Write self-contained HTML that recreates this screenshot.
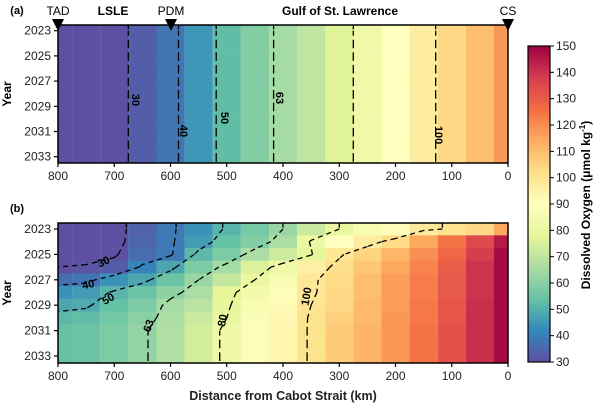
<!DOCTYPE html>
<html><head><meta charset="utf-8">
<style>
body{margin:0;background:#fff;}
svg{display:block;font-family:"Liberation Sans",Arial,sans-serif;}
</style></head>
<body>
<svg id="chart" width="600" height="408" viewBox="0 0 600 408" xmlns="http://www.w3.org/2000/svg">
<defs>
<clipPath id="clipA"><rect x="58" y="25" width="450" height="138"/></clipPath>
<clipPath id="clipB"><rect x="58" y="223" width="450" height="140"/></clipPath>
</defs>
<g id="root"></g>
</svg>
<script>
const distances = [800,750,700,650,600,550,500,450,400,350,300,250,200,150,100,50,0];
const years = [2023,2024,2025,2026,2027,2028,2029,2030,2031,2032,2033];
const xTicks = [800,700,600,500,400,300,200,100,0];
const yTicks = [2023,2025,2027,2029,2031,2033];
const cbTicks = [30,40,50,60,70,80,90,100,110,120,130,140,150];
const contourLevelsA = [30,40,50,63,80,100];
const contourLevelsB = [30,40,50,63,80,100];
const profileA = [26,26,27,33,38,45,53,59,65,70,77,83,90,97,104,110,118];
const gridB = [
 [22,22,27,34,39,44,51,57,63,72,80,86,91,98,101,104,115],
 [23,24,27,35,39,46,54,59,66,81,90,97,103,115,125,135,145],
 [25,26,29,36,39,52,58,66,73,79,99,105,112,120,128,138,148],
 [30,31,33,41,48,58,65,76,83,96,102,108,115,122,130,140,148],
 [37,38,44,48,55,63,71,80,86,99,103,110,117,123,131,140,148],
 [44,46,51,55,61,66,78,84,88,99,104,110,117,123,131,140,148],
 [48,49,54,58,65,69,79,86,92,100,104,111,117,124,132,141,148],
 [52,53,56,60,66,72,80,87,93,101,106,111,118,124,132,141,148],
 [54,55,58,62,67,74,82,88,94,101,107,112,118,125,133,141,148],
 [54,55,58,62,67,74,82,88,94,101,107,112,118,125,133,141,148],
 [54,55,58,62,67,74,82,88,94,101,107,112,118,125,133,141,148]
];
const gridA = years.map(()=>profileA.slice());

const NS="http://www.w3.org/2000/svg";
const root=document.getElementById('root');
function el(tag,attrs,parent){const e=document.createElementNS(NS,tag);for(const k in attrs)e.setAttribute(k,attrs[k]);(parent||root).appendChild(e);return e;}
const stops=[[0,'#5e4fa2'],[0.1,'#3288bd'],[0.2,'#66c2a5'],[0.3,'#abdda4'],[0.4,'#e6f598'],[0.5,'#ffffbf'],[0.6,'#fee08b'],[0.7,'#fdae61'],[0.8,'#f46d43'],[0.9,'#d53e4f'],[1,'#9e0142']];
function hex(h){return [1,3,5].map(i=>parseInt(h.substr(i,2),16));}
function cmap(v){let t=(v-30)/120;t=Math.max(0,Math.min(1,t));for(let i=0;i<stops.length-1;i++){if(t<=stops[i+1][0]){const a=hex(stops[i][1]),b=hex(stops[i+1][1]);const f=(t-stops[i][0])/(stops[i+1][0]-stops[i][0]);return 'rgb('+a.map((c,j)=>Math.round(c+(b[j]-c)*f)).join(',')+')';}}return stops[10][1];}
const xS=km=>508-km*0.5625;

function panel(grid,levels,top,bottom,y2023,y2033,clip,pname){
  const yS=y=>y2023+(y-2023)*(y2033-y2023)/10;
  const g=el('g',{'clip-path':'url(#'+clip+')'});
  
  
  grid.forEach((row,i)=>row.forEach((v,j)=>{
    const r=el('rect',{x:xS(distances[j]+25),y:yS(years[i]-0.5),width:28.2,height:yS(2024)-yS(2023)+0.3,fill:cmap(v)},g);
    
    
  }));
  // padded grid for contours
  const py=[2022.5,...years,2033.5];
  const pg=[grid[0],...grid,grid[grid.length-1]];
  const cg=el('g',{fill:'none',stroke:'#000','stroke-width':1.3,'stroke-dasharray':'5,4'},g);
  
  
  levels.forEach(L=>{
    let d='';
    for(let i=0;i<py.length-1;i++)for(let j=0;j<distances.length-1;j++){
      const c=[[pg[i][j],distances[j],py[i]],[pg[i][j+1],distances[j+1],py[i]],[pg[i+1][j+1],distances[j+1],py[i+1]],[pg[i+1][j],distances[j],py[i+1]]];
      const pts=[];
      for(let k=0;k<4;k++){const a=c[k],b=c[(k+1)%4];if((a[0]<L)!==(b[0]<L)){const f=(L-a[0])/(b[0]-a[0]);pts.push([xS(a[1]+(b[1]-a[1])*f),yS(a[2]+(b[2]-a[2])*f)]);}}
      for(let k=0;k+1<pts.length;k+=2)d+='M'+pts[k][0].toFixed(1)+','+pts[k][1].toFixed(1)+'L'+pts[k+1][0].toFixed(1)+','+pts[k+1][1].toFixed(1);
    }
    if(d){const p=el('path',{d:d},cg);}
  });
  el('rect',{x:58,y:top,width:450,height:bottom-top,fill:'none',stroke:'#000','stroke-width':1.5});
  xTicks.forEach(t=>{el('line',{x1:xS(t),x2:xS(t),y1:bottom,y2:bottom+4,stroke:'#000','stroke-width':1.2});
    const tx=el('text',{x:xS(t),y:bottom+17,'font-size':12,'text-anchor':'middle',fill:'#222'});tx.textContent=t;
    });
  yTicks.forEach(t=>{el('line',{x1:54,x2:58,y1:yS(t),y2:yS(t),stroke:'#000','stroke-width':1.2});
    const tx=el('text',{x:51,y:yS(t)+4,'font-size':12,'text-anchor':'end',fill:'#222'});tx.textContent=t;
    });
  const yt=el('text',{x:0,y:0,'font-size':12,'font-weight':'bold','text-anchor':'middle',transform:'translate(11,'+((top+bottom)/2)+') rotate(-90)'});yt.textContent='Year';
  
}
panel(gridA,contourLevelsA,25,163,30.7,156.7,'clipA','panel-a');
panel(gridB,contourLevelsB,223,363,229,356,'clipB','panel-b');

function label(txt,x,y,rot,name){const t=el('text',{x:0,y:0,'font-size':11,'font-weight':'bold','text-anchor':'middle',transform:'translate('+x+','+y+') rotate('+rot+')'});t.textContent=txt;}
label('30',132,100,90,'contour-label');label('40',180,131,90,'contour-label');label('50',221,118,90,'contour-label');label('63',276,98,90,'contour-label');label('100',435,135,90,'contour-label');
label('30',105,265,-25,'contour-label');label('40',89,288,-12,'contour-label');label('50',110,302,-30,'contour-label');label('63',152,327,-70,'contour-label');label('80',226,321,-80,'contour-label');label('100',310,297,-80,'contour-label');

// panel letters and site markers
label('(a)',17,14,0,'panel-a-label');label('(b)',17,212,0,'panel-b-label');
[['TAD',58,false],['PDM',171,false],['CS',508,false],['LSLE',113,true],['Gulf of St. Lawrence',340,true]].forEach(s=>{
  const t=el('text',{x:s[1],y:15,'font-size':12,'text-anchor':'middle','font-weight':s[2]?'bold':'normal'});t.textContent=s[0];
  
  if(!s[2]){const m=el('path',{d:'M'+(s[1]-6)+',19L'+(s[1]+6)+',19L'+s[1]+',31Z',fill:'#000'});}
});
const xt=el('text',{x:283,y:400,'font-size':12.5,'font-weight':'bold','text-anchor':'middle',fill:'#222'});xt.textContent='Distance from Cabot Strait (km)';


// colorbar
const cbY=v=>362-(v-30)*316/120;
const cb=el('g',{});
for(let v=30;v<150;v+=1){el('rect',{x:528,y:cbY(v+1),width:22,height:cbY(v)-cbY(v+1)+0.4,fill:cmap(v+0.5)},cb);}
el('rect',{x:528,y:46,width:22,height:316,fill:'none',stroke:'#000','stroke-width':1.2},cb);
cbTicks.forEach(t=>{el('line',{x1:550,x2:554,y1:cbY(t),y2:cbY(t),stroke:'#000'},cb);
  const tx=el('text',{x:556,y:cbY(t)+4,'font-size':12,fill:'#222'},cb);tx.textContent=t;
  });
const ct=el('text',{x:0,y:0,'font-size':12,'font-weight':'bold','text-anchor':'middle',transform:'translate(590,205) rotate(-90)'});
ct.innerHTML='Dissolved Oxygen (μmol kg<tspan dy="-5" font-size="8">-1</tspan><tspan dy="5">)</tspan>';

</script>
</body></html>
